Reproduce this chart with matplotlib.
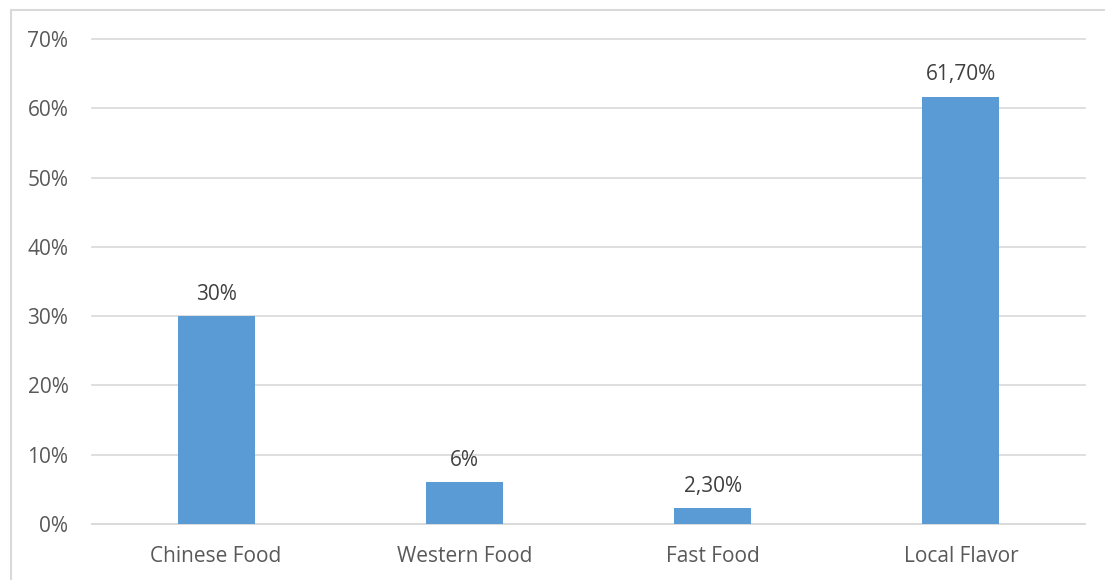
import matplotlib.pyplot as plt
from matplotlib.patches import Rectangle

categories = ['Chinese Food', 'Western Food', 'Fast Food', 'Local Flavor']
values = [0.30, 0.06, 0.023, 0.617]
value_labels = ['30%', '6%', '2,30%', '61,70%']
y_ticks = [0, 0.1, 0.2, 0.3, 0.4, 0.5, 0.6, 0.7]
y_tick_labels = ['0%', '10%', '20%', '30%', '40%', '50%', '60%', '70%']

plt.rcParams['font.family'] = ['Open Sans', 'DejaVu Sans']
text_color = '#595959'

fig = plt.figure(figsize=(11.05, 5.8), dpi=100)
ax = fig.add_axes([92 / 1105, 1 - 524 / 580, (1085 - 92) / 1105, (524 - 39) / 580])

# 外枠（右と下は切れている）
fig.patches.append(Rectangle((11 / 1105, -0.05), 1.1, 1 - 9.5 / 580 + 0.05,
                             transform=fig.transFigure, fill=False,
                             edgecolor='#D9D9D9', linewidth=1.5))

x = range(len(categories))
bars = ax.bar(x, values, width=0.31, color='#5B9BD5', zorder=3)

for b, lab in zip(bars, value_labels):
    ax.annotate(lab, (b.get_x() + b.get_width() / 2, b.get_height()),
                xytext=(0, 8), textcoords='offset points',
                ha='center', va='bottom', fontsize=15, color='#404040')

ax.set_xlim(-0.5, len(categories) - 0.5)
ax.set_ylim(0, 0.7)
ax.set_yticks(y_ticks)
ax.set_yticklabels(y_tick_labels)
ax.set_xticks(list(x))
ax.set_xticklabels(categories)
ax.tick_params(axis='y', length=0, pad=17, labelsize=15, labelcolor=text_color)
ax.tick_params(axis='x', length=0, pad=16, labelsize=15, labelcolor=text_color)
ax.grid(axis='y', color='#D9D9D9', linewidth=1.2, zorder=0)
for gl in ax.get_ygridlines():
    gl.set_clip_on(False)
for side in ['top', 'right', 'left']:
    ax.spines[side].set_visible(False)
ax.spines['bottom'].set_color('#D9D9D9')
ax.spines['bottom'].set_linewidth(1.2)

fig.savefig('out.png', dpi=100)
